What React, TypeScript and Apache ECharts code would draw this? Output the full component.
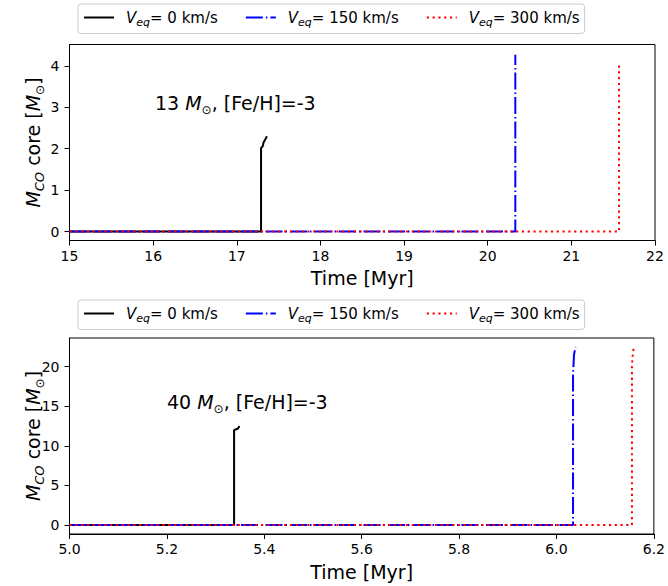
import React, { useEffect, useRef } from "react";
import * as echarts from "echarts";

const FONT = "DejaVu Sans";

const velocities = ["0", "150", "300"];
const seriesNames = velocities.map((v) => `Veq= ${v} km/s`);
const colors = ["#000000", "#0000ff", "#ff0000"];
const dashes: any[] = ["solid", [17, 3, 1.5, 3], [2.2, 3.6]];

// Panel 1: 13 Msun
const t13_v0 = [15, 17.29, 17.29, 17.31, 17.32, 17.34, 17.36];
const m13_v0 = [0, 0, 2.02, 2.06, 2.15, 2.22, 2.3];
const t13_v150 = [15, 20.33, 20.33];
const m13_v150 = [0, 0, 4.27];
const t13_v300 = [15, 21.57, 21.57];
const m13_v300 = [0, 0, 4.08];

// Panel 2: 40 Msun
const t40_v0 = [5.0, 5.338, 5.338, 5.346, 5.349];
const m40_v0 = [0, 0, 12.0, 12.2, 12.5];
const t40_v150 = [5.0, 6.034, 6.034, 6.036, 6.039];
const m40_v150 = [0, 0, 19.0, 21.5, 22.5];
const t40_v300 = [5.0, 6.155, 6.155, 6.157, 6.159];
const m40_v300 = [0, 0, 20.0, 21.8, 22.5];

const yTicks13 = [0, 1, 2, 3, 4];
const yTicks40 = [0, 5, 10, 15, 20];

const zip = (a: number[], b: number[]) => a.map((x, i) => [x, b[i]]);

const panel1 = [zip(t13_v0, m13_v0), zip(t13_v150, m13_v150), zip(t13_v300, m13_v300)];
const panel2 = [zip(t40_v0, m40_v0), zip(t40_v150, m40_v150), zip(t40_v300, m40_v300)];

const legendRich = {
  i: { fontFamily: FONT, fontStyle: "italic", fontSize: 15, lineHeight: 20, verticalAlign: "middle", color: "#000" },
  s: { fontFamily: FONT, fontStyle: "italic", fontSize: 11, lineHeight: 11, verticalAlign: "bottom", color: "#000" },
  r: { fontFamily: FONT, fontSize: 15, lineHeight: 20, verticalAlign: "middle", color: "#000" },
};

const bigRich = {
  i: { fontFamily: FONT, fontStyle: "italic", fontSize: 19, lineHeight: 26, verticalAlign: "middle", color: "#000" },
  s: { fontFamily: FONT, fontStyle: "italic", fontSize: 13, lineHeight: 14, verticalAlign: "bottom", color: "#000" },
  o: { fontFamily: FONT, fontSize: 12, lineHeight: 13, verticalAlign: "bottom", color: "#000" },
  r: { fontFamily: FONT, fontSize: 19, lineHeight: 26, verticalAlign: "middle", color: "#000" },
};

function legendFor(top: number) {
  return {
    left: 78,
    top,
    orient: "horizontal",
    itemWidth: 30,
    itemHeight: 14,
    itemGap: 27,
    padding: [6, 5, 6, 5],
    borderColor: "#cccccc",
    borderWidth: 1,
    borderRadius: 3,
    backgroundColor: "#ffffff",
    selectedMode: false,
    itemStyle: { opacity: 0 },
    data: seriesNames,
    formatter: (name: string) => {
      const v = name.replace("Veq= ", "");
      return `{i|V}{s|eq}{r|= ${v}}`;
    },
    textStyle: { fontFamily: FONT, fontSize: 15, color: "#000", padding: [0, 0, 0, 7], rich: legendRich },
  };
}

function xAxisFor(gridIndex: number, min: number, max: number, interval: number, digits: number) {
  return {
    type: "value",
    gridIndex,
    min,
    max,
    interval,
    axisLine: { show: true, onZero: false, lineStyle: { color: "#000", width: 1 } },
    axisTick: { show: true, inside: false, length: 5, lineStyle: { color: "#000", width: 1 } },
    axisLabel: {
      fontFamily: FONT,
      fontSize: 14,
      color: "#000",
      margin: 8,
      formatter: (v: number) => v.toFixed(digits),
    },
    splitLine: { show: false },
    name: "Time [Myr]",
    nameLocation: "middle",
    nameGap: 28,
    nameTextStyle: { fontFamily: FONT, fontSize: 19, color: "#000" },
  };
}

function yAxisFor(gridIndex: number, min: number, max: number, ticks: number[]) {
  return {
    type: "value",
    gridIndex,
    min,
    max,
    axisLine: { show: true, onZero: false, lineStyle: { color: "#000", width: 1 } },
    axisTick: { show: true, inside: false, length: 5, customValues: ticks, lineStyle: { color: "#000", width: 1 } },
    axisLabel: { fontFamily: FONT, fontSize: 14, color: "#000", margin: 10, customValues: ticks },
    splitLine: { show: false },
    name: "{i|M}{s|CO}{r| core [}{i|M}{o|⊙}{r|]}",
    nameLocation: "middle",
    nameRotate: 90,
    nameGap: 24,
    nameMoveOverlap: false,
    nameTextStyle: { fontFamily: FONT, fontSize: 19, color: "#000", rich: bigRich },
  };
}

function seriesFor(data: number[][][], axisIndex: number) {
  return data.map((d, k) => ({
    name: seriesNames[k],
    type: "line",
    xAxisIndex: axisIndex,
    yAxisIndex: axisIndex,
    data: d,
    symbol: "none",
    showSymbol: false,
    z: 2 + k,
    lineStyle: { color: colors[k], width: 2, type: dashes[k], cap: "butt" },
    itemStyle: { color: colors[k] },
  }));
}

export default function App() {
  const ref = useRef<HTMLDivElement>(null);
  useEffect(() => {
    if (!ref.current) return;
    const chart = echarts.init(ref.current, null, { renderer: "svg" });
    const gridCommon = {
      show: true,
      borderColor: "#000",
      borderWidth: 1,
      backgroundColor: "transparent",
      containLabel: false,
    };
    chart.setOption({
      animation: false,
      backgroundColor: "#ffffff",
      textStyle: { fontFamily: FONT },
      grid: [
        { ...gridCommon, left: 69.5, top: 44.5, width: 585.5, height: 196 },
        { ...gridCommon, left: 69.5, top: 338, width: 585.5, height: 196 },
      ],
      legend: [legendFor(4), legendFor(300)],
      xAxis: [xAxisFor(0, 15, 22, 1, 0), xAxisFor(1, 5.0, 6.2, 0.2, 1)],
      yAxis: [yAxisFor(0, -0.215, 4.515, yTicks13), yAxisFor(1, -1.125, 23.625, yTicks40)],
      series: [...seriesFor(panel1, 0), ...seriesFor(panel2, 1)],
      graphic: [
        {
          type: "text",
          x: 155,
          y: 103,
          style: {
            text: "{r|13 }{i|M}{o|⊙}{r|, [Fe/H]=-3}",
            rich: bigRich,
            verticalAlign: "middle",
            fontFamily: FONT,
            fill: "#000",
          },
        },
        {
          type: "text",
          x: 167,
          y: 402,
          style: {
            text: "{r|40 }{i|M}{o|⊙}{r|, [Fe/H]=-3}",
            rich: bigRich,
            verticalAlign: "middle",
            fontFamily: FONT,
            fill: "#000",
          },
        },
      ],
    });
    return () => chart.dispose();
  }, []);
  return (
    <div
      ref={ref}
      style={{ position: "fixed", left: 0, top: 0, width: 668, height: 586, background: "#fff" }}
    />
  );
}
